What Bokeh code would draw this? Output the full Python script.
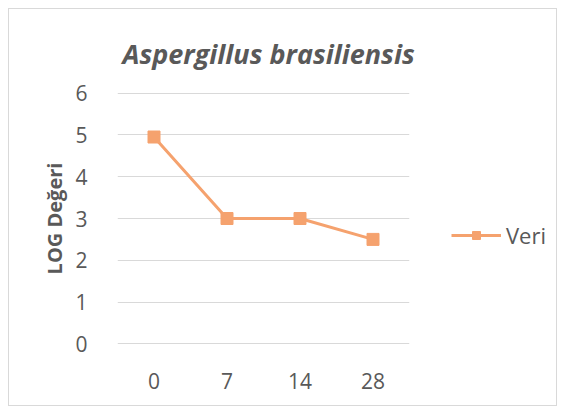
from bokeh.plotting import figure
from bokeh.models import Legend, LegendItem, Range1d, FactorRange, Title, Row
from bokeh.embed import file_html
from bokeh.resources import INLINE

days = ["0", "7", "14", "28"]
log_values = [4.95, 3.0, 3.0, 2.5]
y_ticks = [0, 1, 2, 3, 4, 5, 6]
series_name = "Veri"

FONT = "Open Sans"
GREY = "#595959"
ORANGE = "#F5A26E"

p = figure(width=420, height=396, output_backend="svg", toolbar_location=None,
           x_range=FactorRange(*days, range_padding=0), y_range=Range1d(-0.015, 6.015),
           min_border_left=108, min_border_right=20, min_border_top=83,
           min_border_bottom=61)
p.outline_line_color = None

p.line(days, log_values, line_color=ORANGE, line_width=3)
p.scatter(days, log_values, marker="square", size=12, fill_color=ORANGE,
          line_color=ORANGE)

p.title = Title(text="Aspergillus brasiliensis", align="left", offset=5,
                text_font=FONT, text_font_size="27px", text_font_style="bold italic",
                text_color=GREY, standoff=42)

p.xgrid.grid_line_color = None
p.ygrid.grid_line_color = "#D9D9D9"
p.ygrid.grid_line_width = 1
p.yaxis.ticker = y_ticks

for ax in (p.xaxis, p.yaxis):
    ax.axis_line_color = None
    ax.major_tick_line_color = None
    ax.minor_tick_line_color = None
    ax.major_label_text_font = FONT
    ax.major_label_text_font_size = "21px"
    ax.major_label_text_color = GREY

p.xaxis.major_label_standoff = 22
p.yaxis.major_label_standoff = 24
p.yaxis.axis_label = "LOG Değeri"
p.yaxis.axis_label_text_font = FONT
p.yaxis.axis_label_text_font_size = "20px"
p.yaxis.axis_label_text_font_style = "bold"
p.yaxis.axis_label_text_color = GREY
p.yaxis.axis_label_standoff = 4

# legend panel on the right
lg = figure(width=127, height=396, output_backend="svg", toolbar_location=None,
            x_range=Range1d(0, 1), y_range=Range1d(0, 1),
            min_border=0, min_border_left=0, min_border_right=0,
            min_border_top=0, min_border_bottom=0)
lg.axis.visible = False
lg.grid.visible = False
lg.outline_line_color = None
nan = float("nan")
lg_line = lg.line([nan], [nan], line_color=ORANGE, line_width=3)
lg_pts = lg.scatter([nan], [nan], marker="square", size=12, fill_color=ORANGE,
                    line_color=ORANGE)
legend = Legend(items=[LegendItem(label=series_name, renderers=[lg_line, lg_pts])],
                location=(22, 94), orientation="vertical",
                border_line_color=None, background_fill_alpha=0,
                glyph_width=50, label_text_font=FONT, label_text_font_size="22px",
                label_text_color=GREY, label_standoff=5, padding=0, margin=0)
lg.add_layout(legend)

layout = Row(children=[p, lg], spacing=0,
             styles={"border": "1px solid #D9D9D9", "margin": "8px"})

html = file_html(layout, INLINE)
open("out.html", "w").write(html)
